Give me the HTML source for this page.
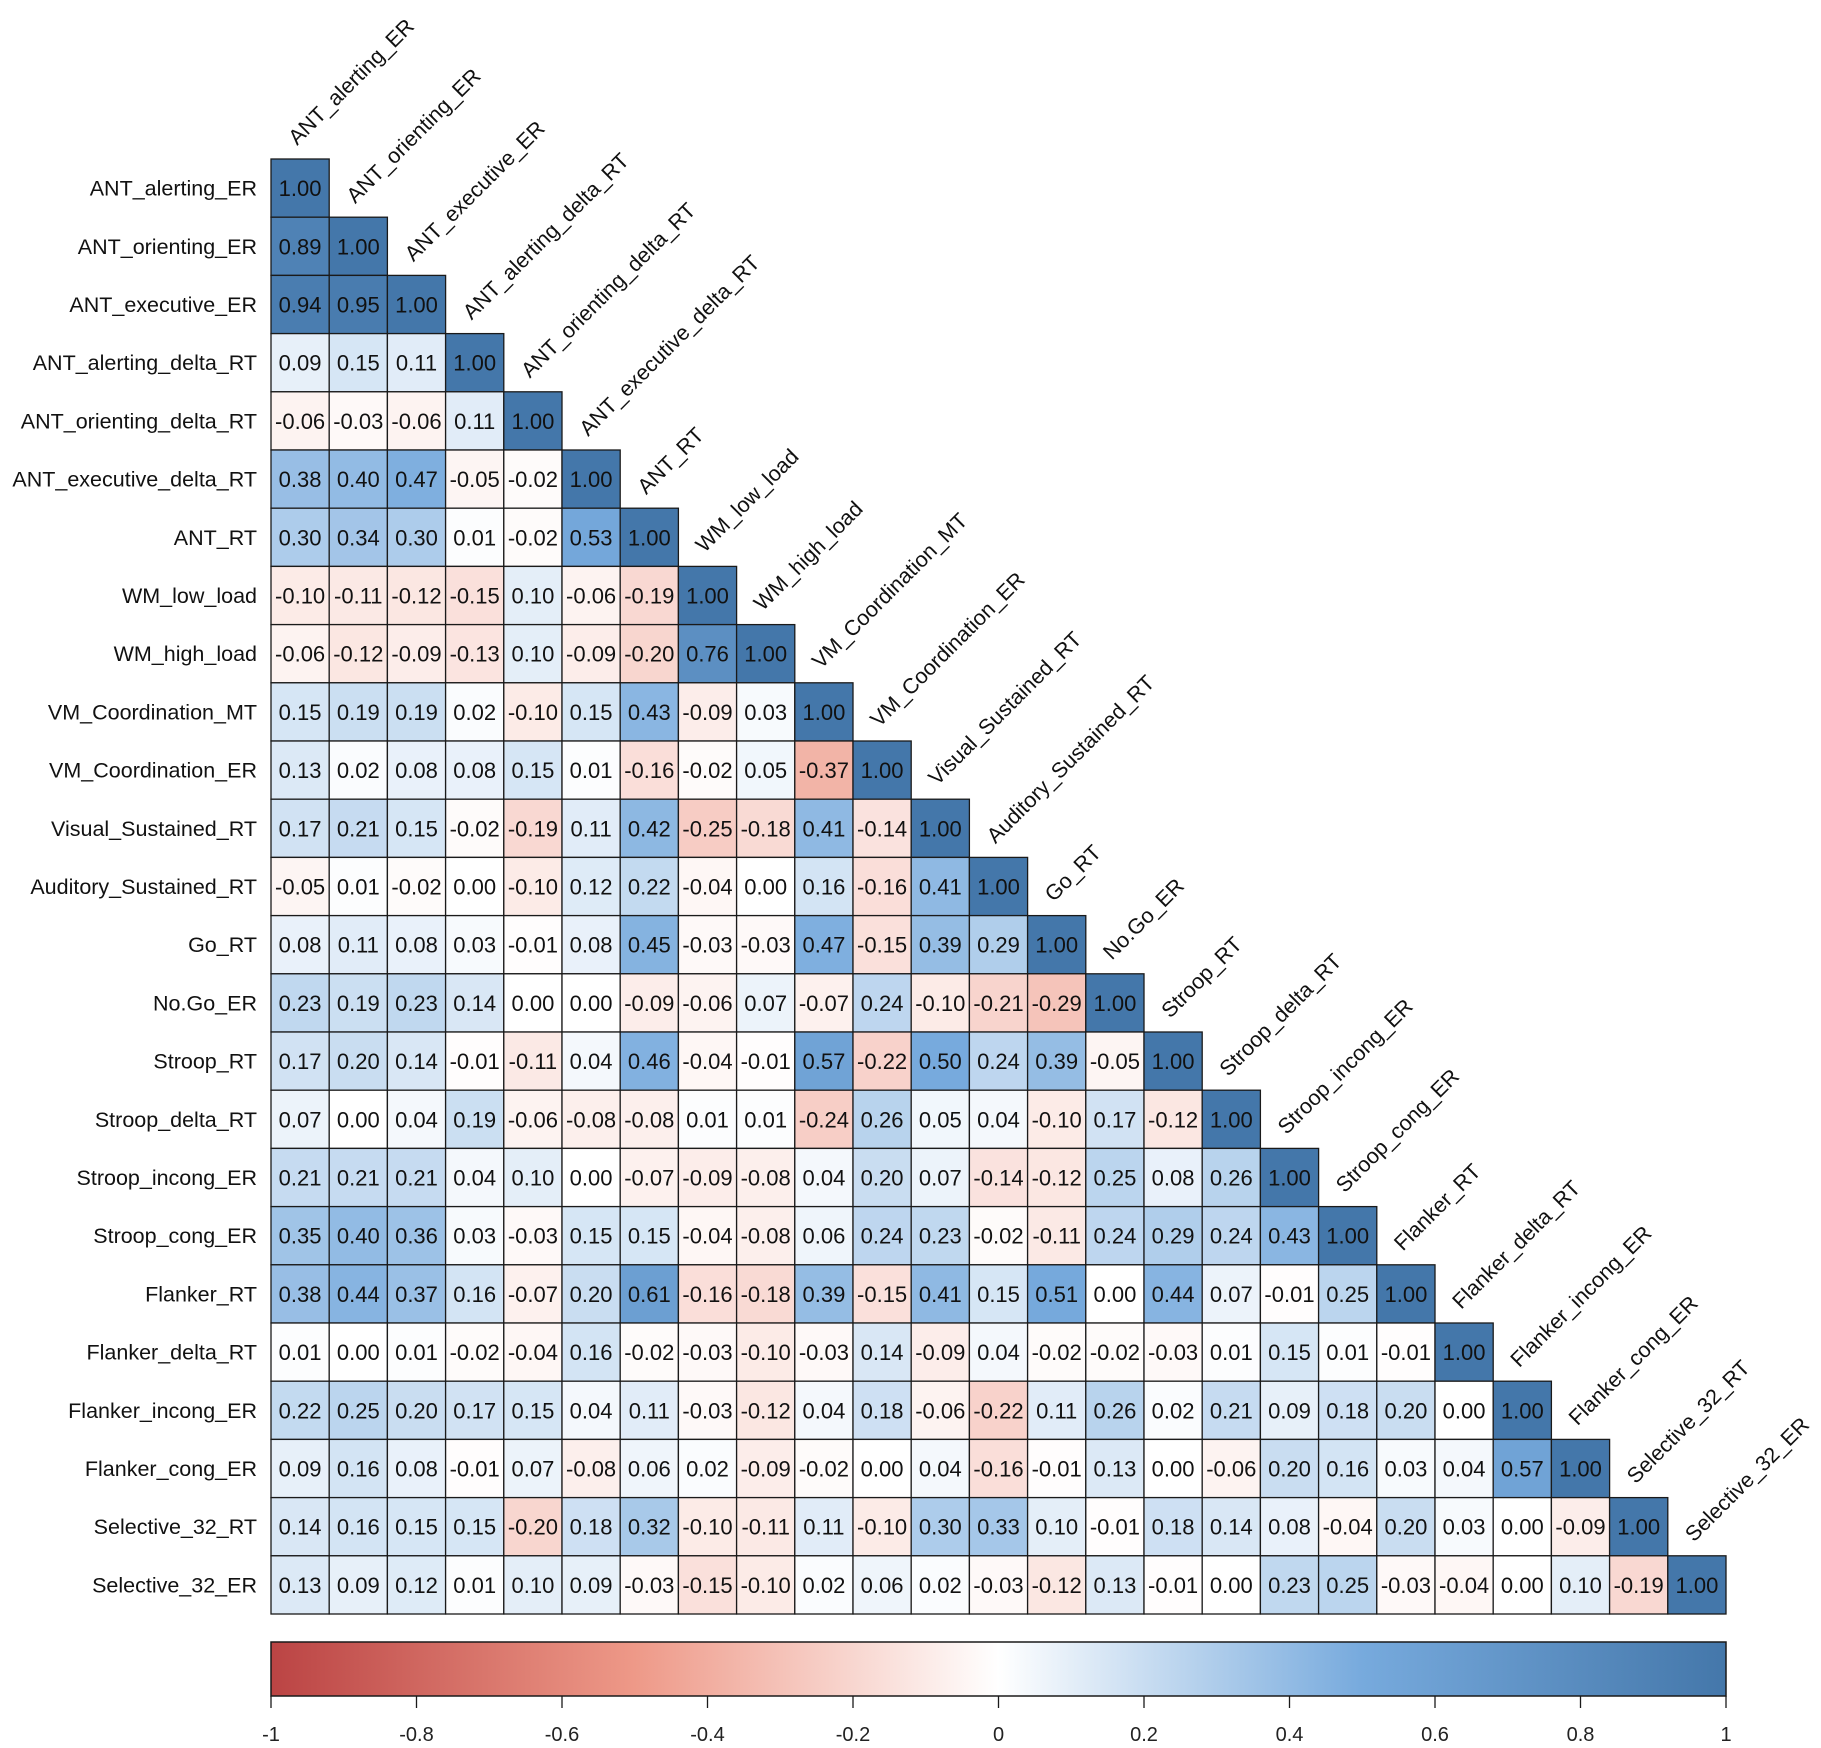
<!DOCTYPE html>
<html><head><meta charset="utf-8"><style>
html,body{margin:0;padding:0;background:#fff;}
svg{display:block;font-family:"Liberation Sans",Arial,sans-serif;}
</style></head><body>
<svg id="chart" width="1821" height="1748" viewBox="0 0 1821 1748" xmlns="http://www.w3.org/2000/svg">
<defs><linearGradient id="cbgrad" x1="0" x2="1" y1="0" y2="0">
<stop offset="0" stop-color="#BB4444"/><stop offset="0.25" stop-color="#EE9988"/><stop offset="0.5" stop-color="#FFFFFF"/><stop offset="0.75" stop-color="#77AADD"/><stop offset="1" stop-color="#4477AA"/>
</linearGradient></defs>
<g id="cells"></g><g id="labels"></g><g id="colorbar"></g>
</svg>
<script>
const variables = ["ANT_alerting_ER","ANT_orienting_ER","ANT_executive_ER","ANT_alerting_delta_RT","ANT_orienting_delta_RT","ANT_executive_delta_RT","ANT_RT","WM_low_load","WM_high_load","VM_Coordination_MT","VM_Coordination_ER","Visual_Sustained_RT","Auditory_Sustained_RT","Go_RT","No.Go_ER","Stroop_RT","Stroop_delta_RT","Stroop_incong_ER","Stroop_cong_ER","Flanker_RT","Flanker_delta_RT","Flanker_incong_ER","Flanker_cong_ER","Selective_32_RT","Selective_32_ER"];
const correlations = [
[1.00],
[0.89,1.00],
[0.94,0.95,1.00],
[0.09,0.15,0.11,1.00],
[-0.06,-0.03,-0.06,0.11,1.00],
[0.38,0.40,0.47,-0.05,-0.02,1.00],
[0.30,0.34,0.30,0.01,-0.02,0.53,1.00],
[-0.10,-0.11,-0.12,-0.15,0.10,-0.06,-0.19,1.00],
[-0.06,-0.12,-0.09,-0.13,0.10,-0.09,-0.20,0.76,1.00],
[0.15,0.19,0.19,0.02,-0.10,0.15,0.43,-0.09,0.03,1.00],
[0.13,0.02,0.08,0.08,0.15,0.01,-0.16,-0.02,0.05,-0.37,1.00],
[0.17,0.21,0.15,-0.02,-0.19,0.11,0.42,-0.25,-0.18,0.41,-0.14,1.00],
[-0.05,0.01,-0.02,0.00,-0.10,0.12,0.22,-0.04,0.00,0.16,-0.16,0.41,1.00],
[0.08,0.11,0.08,0.03,-0.01,0.08,0.45,-0.03,-0.03,0.47,-0.15,0.39,0.29,1.00],
[0.23,0.19,0.23,0.14,0.00,0.00,-0.09,-0.06,0.07,-0.07,0.24,-0.10,-0.21,-0.29,1.00],
[0.17,0.20,0.14,-0.01,-0.11,0.04,0.46,-0.04,-0.01,0.57,-0.22,0.50,0.24,0.39,-0.05,1.00],
[0.07,0.00,0.04,0.19,-0.06,-0.08,-0.08,0.01,0.01,-0.24,0.26,0.05,0.04,-0.10,0.17,-0.12,1.00],
[0.21,0.21,0.21,0.04,0.10,0.00,-0.07,-0.09,-0.08,0.04,0.20,0.07,-0.14,-0.12,0.25,0.08,0.26,1.00],
[0.35,0.40,0.36,0.03,-0.03,0.15,0.15,-0.04,-0.08,0.06,0.24,0.23,-0.02,-0.11,0.24,0.29,0.24,0.43,1.00],
[0.38,0.44,0.37,0.16,-0.07,0.20,0.61,-0.16,-0.18,0.39,-0.15,0.41,0.15,0.51,0.00,0.44,0.07,-0.01,0.25,1.00],
[0.01,0.00,0.01,-0.02,-0.04,0.16,-0.02,-0.03,-0.10,-0.03,0.14,-0.09,0.04,-0.02,-0.02,-0.03,0.01,0.15,0.01,-0.01,1.00],
[0.22,0.25,0.20,0.17,0.15,0.04,0.11,-0.03,-0.12,0.04,0.18,-0.06,-0.22,0.11,0.26,0.02,0.21,0.09,0.18,0.20,0.00,1.00],
[0.09,0.16,0.08,-0.01,0.07,-0.08,0.06,0.02,-0.09,-0.02,0.00,0.04,-0.16,-0.01,0.13,0.00,-0.06,0.20,0.16,0.03,0.04,0.57,1.00],
[0.14,0.16,0.15,0.15,-0.20,0.18,0.32,-0.10,-0.11,0.11,-0.10,0.30,0.33,0.10,-0.01,0.18,0.14,0.08,-0.04,0.20,0.03,0.00,-0.09,1.00],
[0.13,0.09,0.12,0.01,0.10,0.09,-0.03,-0.15,-0.10,0.02,0.06,0.02,-0.03,-0.12,0.13,-0.01,0.00,0.23,0.25,-0.03,-0.04,0.00,0.10,-0.19,1.00]
];
const colorbarTicks = [-1,-0.8,-0.6,-0.4,-0.2,0,0.2,0.4,0.6,0.8,1];
const tickLabels = ["-1","-0.8","-0.6","-0.4","-0.2","0","0.2","0.4","0.6","0.8","1"];

const NS="http://www.w3.org/2000/svg";
const X0=271, Y0=159, W=1726-271, N=variables.length, C=W/N;
const cbY0=1642, cbY1=1696;
function xPos(j){return X0+j*C;}
function yPos(i){return Y0+i*C;}
function cbX(v){return X0+(v+1)/2*W;}
const stops=[[-1,[0xBB,0x44,0x44]],[-0.5,[0xEE,0x99,0x88]],[0,[255,255,255]],[0.5,[0x77,0xAA,0xDD]],[1,[0x44,0x77,0xAA]]];
function color(v){
  for(let k=0;k<stops.length-1;k++){
    const [a,ca]=stops[k],[b,cb]=stops[k+1];
    if(v<=b){const t=(v-a)/(b-a);return "rgb("+ca.map((c,i)=>Math.round(c+(cb[i]-c)*t)).join(",")+")";}
  }
  return "rgb(68,119,170)";
}
function mk(tag,attrs,parent,text){const e=document.createElementNS(NS,tag);for(const k in attrs)e.setAttribute(k,attrs[k]);if(text!==undefined)e.textContent=text;parent.appendChild(e);return e;}
const cells=document.getElementById('cells'), labels=document.getElementById('labels'), cb=document.getElementById('colorbar');
correlations.forEach((row,i)=>{
  row.forEach((v,j)=>{
    const r=mk('rect',{x:xPos(j),y:yPos(i),width:C,height:C,fill:color(v),stroke:"#1a1a1a","stroke-width":1.3},cells);
    
    
    const t=mk('text',{x:xPos(j)+C/2,y:yPos(i)+C/2+8,"text-anchor":"middle","font-size":22,fill:"#111"},cells,v.toFixed(2));
    
    
  });
});
variables.forEach((name,i)=>{
  const t=mk('text',{x:257,y:yPos(i)+C/2+7.5,"text-anchor":"end","font-size":21.5,fill:"#111"},labels,name);
  
  
  const cx=xPos(i)+C/2-3, cy=yPos(i)-13;
  const c=mk('text',{x:cx,y:cy,"font-size":21.5,fill:"#111",transform:"rotate(-45 "+cx+" "+cy+")"},labels,name);
  
  
});
const bar=mk('rect',{x:X0,y:cbY0,width:W,height:cbY1-cbY0,fill:"url(#cbgrad)",stroke:"#1a1a1a","stroke-width":1.5},cb);


colorbarTicks.forEach((v,k)=>{
  const l=mk('line',{x1:cbX(v),x2:cbX(v),y1:cbY1,y2:1708,stroke:"#1a1a1a","stroke-width":1.3},cb);
  
  
  const t=mk('text',{x:cbX(v),y:1741,"text-anchor":"middle","font-size":20,fill:"#222"},cb,tickLabels[k]);
  
  
});
</script>
</body></html>
